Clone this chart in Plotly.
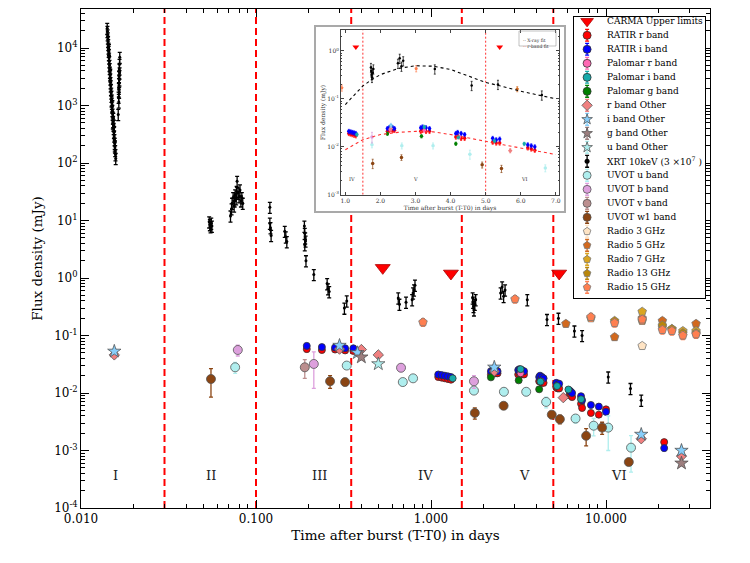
import math
import plotly.graph_objects as go

# ---------------- data ----------------
boundaries = [0.03, 0.1, 0.35, 1.5, 5.0]
region_names = ["I", "II", "III", "IV", "V", "VI"]
region_t = [0.0157, 0.0553, 0.23, 0.935, 3.4, 11.9]
region_f = 3.7e-4
inset_boundaries = [1.5, 5.0]
inset_region_names = ["IV", "V", "VI"]
inset_region_t = [1.2, 3.0, 6.1]
inset_region_f = 0.0021

carma_t = [0.53, 1.30, 5.40]
carma_f = [1.5, 1.2, 1.2]

ratir_r_t = [0.195, 0.238, 0.283, 0.323, 0.36,
             1.10, 1.15, 1.20, 1.25, 1.30,
             2.20, 2.25, 2.30, 2.35, 2.40, 3.15, 3.20, 3.30, 3.40, 4.15, 4.20, 4.30, 4.40,
             5.20, 5.30, 5.40, 6.20, 6.30, 6.40, 7.20, 7.30, 8.20, 9.10, 10.0, 21.5]
ratir_r_f = [0.058, 0.056, 0.057, 0.055, 0.054,
             0.019, 0.0185, 0.018, 0.0175, 0.017,
             0.021, 0.022, 0.023, 0.022, 0.022, 0.021, 0.022, 0.021, 0.021, 0.016, 0.017, 0.015, 0.015,
             0.0125, 0.012, 0.012, 0.0095, 0.009, 0.0085, 0.0065, 0.0055, 0.0045, 0.0042, 0.0052, 0.0014]

ratir_i_t = [0.195, 0.238, 0.283, 0.323, 0.36,
             1.10, 1.15, 1.20, 1.25, 1.30,
             2.20, 2.25, 2.30, 2.35, 2.40, 3.15, 3.20, 3.30, 3.40, 4.15, 4.20, 4.30, 4.40,
             5.20, 5.30, 5.40, 6.20, 6.30, 6.40, 7.20, 7.30, 8.20, 9.10, 10.0, 21.5]
ratir_i_f = [0.066, 0.063, 0.062, 0.060, 0.060,
             0.021, 0.0205, 0.020, 0.0195, 0.019,
             0.024, 0.025, 0.026, 0.025, 0.024, 0.025, 0.026, 0.025, 0.024, 0.019, 0.020, 0.019, 0.018,
             0.015, 0.014, 0.0145, 0.011, 0.0105, 0.010, 0.0088, 0.0075, 0.0062, 0.0058, 0.0047, 0.0011]

pal_r_t = [2.28, 3.25, 4.25]
pal_r_f = [0.023, 0.022, 0.016]
pal_i_t = [1.33, 2.30, 3.25, 4.22, 5.25, 6.10, 7.20]
pal_i_f = [0.018, 0.027, 0.026, 0.0158, 0.0132, 0.0115, 0.0078]
pal_g_t = [2.20, 3.17, 4.15]
pal_g_f = [0.0187, 0.0166, 0.0116]

r_oth_t = [0.0155, 0.30, 0.40, 0.50, 2.30, 5.70, 15.9, 27.0]
r_oth_f = [0.046, 0.058, 0.057, 0.046, 0.024, 0.0083, 0.0016, 0.0008]
i_oth_t = [0.0155, 0.30, 0.38, 2.30, 15.9, 27.0]
i_oth_f = [0.053, 0.067, 0.050, 0.028, 0.0019, 0.001]
g_oth_t = [0.40, 27.0]
g_oth_f = [0.042, 0.0006]
u_oth_t = [0.50]
u_oth_f = [0.032]

xrt_t = [
    0.01412, 0.01416, 0.01420, 0.01424, 0.01428, 0.01431, 0.01435, 0.01439, 0.01443, 0.01447,
    0.01451, 0.01455, 0.01459, 0.01463, 0.01467, 0.01471, 0.01475, 0.01479, 0.01483, 0.01488,
    0.01492, 0.01497, 0.01501, 0.01506, 0.01511, 0.01516, 0.01521, 0.01526, 0.01531, 0.01537,
    0.01542, 0.01547, 0.01553, 0.01558, 0.01563, 0.01568, 0.01574, 0.01579,
    0.01445, 0.01470, 0.01495, 0.01520, 0.01540, 0.01560, 0.01548, 0.01530, 0.01512,
    0.01665, 0.01660, 0.01655, 0.01662, 0.01650, 0.01657, 0.01648, 0.01645, 0.01652, 0.01640, 0.01645, 0.01632,
    0.0540, 0.0545, 0.0550, 0.0555, 0.0560,
    0.0715, 0.0725, 0.0730, 0.0740, 0.0750, 0.0755, 0.0760, 0.0770, 0.0775, 0.0780, 0.0790, 0.0800,
    0.0810, 0.0820, 0.0830, 0.0840,
    0.120, 0.120, 0.121, 0.122, 0.146, 0.148, 0.150, 0.189, 0.190, 0.191, 0.192, 0.190, 0.193, 0.214,
    0.255, 0.258, 0.262, 0.320, 0.330,
    0.65, 0.66, 0.72, 0.78, 0.79, 0.80, 0.81,
    1.73, 1.74, 1.75, 1.76, 1.78, 1.80, 2.50, 2.55, 2.60, 2.65, 3.55, 4.60,
    5.35, 6.60, 7.30, 10.3, 13.8, 15.9]
xrt_f = [
    22000, 19500, 17000, 15000, 13000, 11500, 10000, 8800, 7700, 6700,
    5800, 5000, 4400, 3800, 3300, 2900, 2500, 2200, 1900, 1650,
    1450, 1250, 1100, 950, 820, 710, 610, 530, 460, 400,
    340, 295, 255, 220, 190, 165, 140, 120,
    9500, 3500, 1200, 500, 450, 200, 350, 600, 1000,
    6900, 5200, 4300, 3700, 3200, 2800, 2400, 2000, 1700, 1400, 1150, 700,
    9.5, 8.5, 7.8, 9.0, 8.0,
    12, 16, 20, 25, 18, 22, 28, 24, 32, 48, 30, 26,
    34, 22, 25, 20,
    17, 9.0, 7.5, 5.5, 6.5, 5.2, 4.3, 8.0, 6.0, 5.0, 4.4, 3.8, 2.0, 1.15,
    0.80, 0.65, 0.58, 0.30, 0.40,
    0.45, 0.35, 0.38, 0.42, 0.55, 0.62, 0.75,
    0.45, 0.38, 0.32, 0.28, 0.35, 0.42, 0.55, 0.70, 0.48, 0.62, 0.42, 0.19,
    0.20, 0.12, 0.10, 0.019, 0.012, 0.0075]

uvu_t = [0.076, 0.33, 0.69, 0.79, 1.76, 2.61, 3.50, 4.55, 6.70, 8.50, 10.3, 13.9]
uvu_f = [0.028, 0.030, 0.0155, 0.018, 0.011, 0.0105, 0.0105, 0.007, 0.0036, 0.0027, 0.0025, 0.00112]
uvu_e = [0.006, 0.004, 0.002, 0.002, 0.0015, 0.0015, 0.0015, 0.0015, 0.0006, 0.0009, 0.0015, 0.0007]
uvb_t = [0.0787, 0.214, 0.674, 1.76]
uvb_f = [0.056, 0.032, 0.0275, 0.016]
uvb_e = [0.012, 0.020, 0.004, 0.004]
uvv_t = [0.19]
uvv_f = [0.028]
uvv_e = [0.010]
uvw1_t = [0.0553, 0.265, 0.323, 1.78, 2.60, 4.90, 5.45, 7.70, 9.50, 13.5]
uvw1_f = [0.0175, 0.016, 0.0155, 0.0045, 0.006, 0.0042, 0.0035, 0.0018, 0.0025, 0.00063]
uvw1_e = [0.009, 0.004, 0.002, 0.001, 0.0008, 0.0006, 0.0006, 0.0006, 0.0006, 0.00008]

radio3_t = [16.1]
radio3_f = [0.066]
radio5_t = [5.9, 11.2, 16.1, 21.0, 32.7]
radio5_f = [0.16, 0.094, 0.20, 0.18, 0.16]
radio7_t = [8.2, 16.1, 21.0, 23.8, 27.5, 32.7]
radio7_f = [0.20, 0.26, 0.14, 0.13, 0.12, 0.12]
radio13_t = [11.2, 16.1, 21.0, 23.8, 27.5, 32.7]
radio13_f = [0.18, 0.18, 0.15, 0.13, 0.11, 0.11]
radio15_t = [0.9, 3.02, 8.2, 11.2, 16.1, 21.0, 23.8, 27.5, 32.7]
radio15_f = [0.17, 0.43, 0.21, 0.165, 0.19, 0.125, 0.12, 0.10, 0.105]

xfit_t = [1.0, 1.25, 1.5, 1.75, 2.0, 2.5, 3.0, 3.5, 4.0, 4.5, 5.0, 5.5, 6.0, 6.5, 7.0]
xfit_f = [0.076, 0.12, 0.186, 0.25, 0.32, 0.43, 0.49, 0.48, 0.41, 0.30, 0.22, 0.18, 0.144, 0.12, 0.10]
rfit_t = [1.0, 1.5, 2.0, 2.5, 3.0, 3.5, 4.0, 4.5, 5.0, 5.5, 6.0, 6.5, 7.0]
rfit_f = [0.0087, 0.014, 0.018, 0.020, 0.021, 0.0205, 0.018, 0.0155, 0.013, 0.011, 0.0094, 0.008, 0.0069]

xtick_vals = [0.01, 0.1, 1.0, 10.0]
xtick_text = ["0.010", "0.100", "1.000", "10.000"]
ytick_exp = [-4, -3, -2, -1, 0, 1, 2, 3, 4]
inset_xticks = [1.0, 2.0, 3.0, 4.0, 5.0, 6.0, 7.0]
inset_yexp = [-3, -2, -1, 0]

# ---------------- layout geometry ----------------
W, H = 750, 563
L, R, T, B = 73, 48, 1, 63
PW, PH = W - L - R, H - T - B
FONT = "DejaVu Serif"


def fx(px):
    return (px - L) / PW


def fy(py):
    return (H - B - py) / PH


DEC_X, DEC_Y = 175.0, 57.5
main_xrange = [-2, -2 + PW / DEC_X]
main_yrange = [-4, -4 + PH / DEC_Y]
inset_xrange = [0.877, 7.09]
inset_yrange = [-3, 0.43]

# series spec: name, t, f, color, symbol, size, error spec, edge
series = [
    ("CARMA Upper limits", carma_t, carma_f, "#ff0000", "triangle-down", 13, None, "#aa0000"),
    ("RATIR r band", ratir_r_t, ratir_r_f, "#ff0000", "circle", 7, ("pct", 10), "#333333"),
    ("RATIR i band", ratir_i_t, ratir_i_f, "#0000ff", "circle", 7, ("pct", 10), "#333333"),
    ("Palomar r band", pal_r_t, pal_r_f, "#ff69b4", "circle", 7, ("pct", 8), "#333333"),
    ("Palomar i band", pal_i_t, pal_i_f, "#17aaaa", "circle", 7, ("pct", 8), "#333333"),
    ("Palomar g band", pal_g_t, pal_g_f, "#008000", "circle", 7, ("pct", 8), "#333333"),
    ("r band Other", r_oth_t, r_oth_f, "#f08080", "diamond", 8, ("pct", 10), "#555555"),
    ("i band Other", i_oth_t, i_oth_f, "#87cefa", "star", 10, ("pct", 10), "#555555"),
    ("g band Other", g_oth_t, g_oth_f, "#9d7e7e", "star", 10, ("pct", 10), "#555555"),
    ("u band Other", u_oth_t, u_oth_f, "#afeeee", "star", 10, ("pct", 10), "#555555"),
    ("XRT 10keV (3 \u00d710<sup>7</sup> )", xrt_t, xrt_f, "#000000", "circle", 3, ("pct", 22), None),
    ("UVOT u band", uvu_t, uvu_f, "#afeeee", "circle", 9, ("arr", uvu_e), "#555555"),
    ("UVOT b band", uvb_t, uvb_f, "#dda0dd", "circle", 9, ("arr", uvb_e), "#555555"),
    ("UVOT v band", uvv_t, uvv_f, "#bc8f8f", "circle", 9, ("arr", uvv_e), "#555555"),
    ("UVOT w1 band", uvw1_t, uvw1_f, "#8b4513", "circle", 9, ("arr", uvw1_e), "#555555"),
    ("Radio 3 GHz", radio3_t, radio3_f, "#ffe4c4", "pentagon", 9, ("pct", 12), "#777777"),
    ("Radio 5 GHz", radio5_t, radio5_f, "#d2691e", "pentagon", 9, ("pct", 12), "#777777"),
    ("Radio 7 GHz", radio7_t, radio7_f, "#daa520", "pentagon", 9, ("pct", 8), "#777777"),
    ("Radio 13 GHz", radio13_t, radio13_f, "#b8860b", "pentagon", 9, ("pct", 8), "#777777"),
    ("Radio 15 GHz", radio15_t, radio15_f, "#ff7f50", "pentagon", 9, ("pct", 15), "#777777"),
]


def err_dict(spec, color, keep=None, thick=1.3, width=2):
    if spec is None:
        return dict(visible=False)
    kind, val = spec
    if kind == "pct":
        return dict(type="percent", value=val, color=color, thickness=thick, width=width)
    arr = val if keep is None else [val[i] for i in keep]
    return dict(type="data", array=arr, color=color, thickness=thick, width=width)


fig = go.Figure()

# main panel
for name, t, f, color, sym, size, espec, edge in series:
    fig.add_trace(go.Scatter(
        x=t, y=f, mode="markers", name=name, showlegend=False,
        marker=dict(color=color, symbol=sym, size=size,
                    line=dict(color=edge or color, width=0.8 if edge else 0)),
        error_y=err_dict(espec, color),
        xaxis="x", yaxis="y",
    ))

# frame of the inset (x2/y2) - an opaque panel
fig.add_trace(go.Scatter(x=[0.5], y=[0.5], mode="markers", marker=dict(opacity=0),
                         showlegend=False, hoverinfo="skip", xaxis="x2", yaxis="y2"))

# inset panel (x3/y3)
for name, t, f, color, sym, size, espec, edge in series:
    keep = [i for i, v in enumerate(t) if inset_xrange[0] <= v <= inset_xrange[1]]
    if not keep:
        continue
    isz = 6 if sym == "triangle-down" else (2.5 if color == "#000000" else 3.5)
    fig.add_trace(go.Scatter(
        x=[t[i] for i in keep], y=[f[i] for i in keep], mode="markers", showlegend=False,
        marker=dict(color=color, symbol=sym, size=isz, line=dict(width=0)),
        error_y=err_dict(espec, color, keep, thick=0.7, width=1),
        xaxis="x3", yaxis="y3",
    ))
fig.add_trace(go.Scatter(x=xfit_t, y=xfit_f, mode="lines", showlegend=False,
                         line=dict(color="black", dash="dot", width=1.1), xaxis="x3", yaxis="y3"))
fig.add_trace(go.Scatter(x=rfit_t, y=rfit_f, mode="lines", showlegend=False,
                         line=dict(color="#ff3030", dash="dot", width=1.1), xaxis="x3", yaxis="y3"))

# legend panel (x4/y4)
for i, (name, t, f, color, sym, size, espec, edge) in enumerate(series):
    lsize = 11 if sym == "triangle-down" else (5 if color == "#000000" else 8)
    fig.add_trace(go.Scatter(
        x=[0.1], y=[i], mode="markers", showlegend=False, hoverinfo="skip",
        marker=dict(color=color, symbol=sym, size=lsize,
                    line=dict(color=edge or color, width=0.8 if edge else 0)),
        error_y=(dict(visible=False) if espec is None else
                 dict(type="constant", value=0.42, color=color, thickness=1.3, width=2)),
        xaxis="x4", yaxis="y4",
    ))

shapes = []
for b in boundaries:
    shapes.append(dict(type="line", xref="x", yref="y", layer="below",
                       x0=b, x1=b, y0=10 ** main_yrange[0], y1=10 ** main_yrange[1],
                       line=dict(color="#ff0000", width=2, dash="7px,4px")))
for b in inset_boundaries:
    shapes.append(dict(type="line", xref="x3", yref="y3", layer="below",
                       x0=b, x1=b, y0=10 ** inset_yrange[0], y1=10 ** inset_yrange[1],
                       line=dict(color="#ff3030", width=1, dash="2px,2px")))
# inset mini-legend box
shapes.append(dict(type="rect", xref="paper", yref="paper",
                   x0=fx(511), x1=fx(548), y0=fy(38), y1=fy(23),
                   line=dict(color="#999999", width=0.6), fillcolor="rgba(255,255,255,0)"))

annotations = []
for nm, t in zip(region_names, region_t):
    annotations.append(dict(x=math.log10(t), y=math.log10(region_f), xref="x", yref="y",
                            text=nm, showarrow=False, font=dict(family=FONT, size=13, color="#222")))
for nm, t in zip(inset_region_names, inset_region_t):
    annotations.append(dict(x=t, y=math.log10(inset_region_f), xref="x3", yref="y3",
                            text=nm, showarrow=False, font=dict(family=FONT, size=5, color="#333")))
for i, (name, *_rest) in enumerate(series):
    annotations.append(dict(x=0.235, y=i, xref="x4", yref="y4", xanchor="left", yanchor="middle",
                            text=name, showarrow=False, font=dict(family=FONT, size=9, color="black")))
annotations.append(dict(x=fx(513), y=fy(27.5), xref="paper", yref="paper", xanchor="left",
                        text="<span style='color:black'>\u00b7\u00b7</span> X-ray fit",
                        showarrow=False, font=dict(family=FONT, size=4.5, color="#333")))
annotations.append(dict(x=fx(513), y=fy(33.5), xref="paper", yref="paper", xanchor="left",
                        text="<span style='color:#ff3030'>\u00b7\u00b7</span> r-band fit",
                        showarrow=False, font=dict(family=FONT, size=4.5, color="#333")))

xminor = [k * 10 ** n for n in range(-2, 2) for k in range(2, 10)]
yminor = [k * 10.0 ** n for n in range(-4, 5) for k in range(2, 10)]
iyminor = [k * 10.0 ** n for n in range(-3, 1) for k in range(2, 10)]

fig.update_layout(
    width=W, height=H,
    margin=dict(l=L, r=R, t=T, b=B),
    paper_bgcolor="white", plot_bgcolor="white",
    showlegend=False,
    font=dict(family=FONT, color="black"),
    shapes=shapes, annotations=annotations,
    xaxis=dict(type="log", range=main_xrange, domain=[0, 1], anchor="y",
               tickmode="array", tickvals=xtick_vals, ticktext=xtick_text,
               ticks="inside", ticklen=8, tickwidth=1, tickcolor="black", mirror="allticks",
               showline=True, linecolor="black", linewidth=1, showgrid=False, zeroline=False,
               tickfont=dict(family=FONT, size=12),
               minor=dict(tickmode="array", tickvals=xminor, ticks="inside", ticklen=4,
                          tickcolor="black", showgrid=False),
               title=dict(text="Time after burst (T-T0) in days", font=dict(family=FONT, size=13.5),
                          standoff=5)),
    yaxis=dict(type="log", range=main_yrange, domain=[0, 1], anchor="x",
               tickmode="array", tickvals=[10.0 ** e for e in ytick_exp],
               ticktext=["10<sup>%d</sup>" % e for e in ytick_exp],
               ticks="inside", ticklen=8, tickwidth=1, tickcolor="black", mirror="allticks",
               showline=True, linecolor="black", linewidth=1, showgrid=False, zeroline=False,
               tickfont=dict(family=FONT, size=12),
               minor=dict(tickmode="array", tickvals=yminor, ticks="inside", ticklen=4,
                          tickcolor="black", showgrid=False),
               title=dict(text="Flux density (mJy)", font=dict(family=FONT, size=13.5), standoff=8)),
    xaxis2=dict(domain=[fx(307.7), fx(555.7)], range=[0, 1], anchor="y2", showline=True, mirror=True,
                linecolor="#a9a9a9", linewidth=2, showticklabels=False, ticks="", showgrid=False,
                zeroline=False, fixedrange=True),
    yaxis2=dict(domain=[fy(203), fy(19)], range=[0, 1], anchor="x2", showline=True, mirror=True,
                linecolor="#a9a9a9", linewidth=2, showticklabels=False, ticks="", showgrid=False,
                zeroline=False, fixedrange=True),
    xaxis3=dict(domain=[fx(333), fx(551)], range=inset_xrange, anchor="y3",
                tickmode="array", tickvals=inset_xticks, ticktext=["%.1f" % v for v in inset_xticks],
                ticks="inside", ticklen=3, tickcolor="#444", mirror="allticks", showline=True,
                linecolor="#444", linewidth=0.8, showgrid=False, zeroline=False,
                tickfont=dict(family=FONT, size=6, color="#333"),
                title=dict(text="Time after burst (T-T0) in days", font=dict(family=FONT, size=6, color="#333"),
                           standoff=1)),
    yaxis3=dict(type="log", domain=[fy(186.7), fy(22.3)], range=inset_yrange, anchor="x3",
                tickmode="array", tickvals=[10.0 ** e for e in inset_yexp],
                ticktext=["10<sup>%d</sup>" % e for e in inset_yexp],
                ticks="inside", ticklen=3, tickcolor="#444", mirror="allticks", showline=True,
                linecolor="#444", linewidth=0.8, showgrid=False, zeroline=False,
                tickfont=dict(family=FONT, size=6, color="#333"),
                minor=dict(tickmode="array", tickvals=iyminor, ticks="inside", ticklen=1.5,
                           tickcolor="#444", showgrid=False),
                title=dict(text="Flux density (mJy)", font=dict(family=FONT, size=6, color="#333"),
                           standoff=1)),
    xaxis4=dict(domain=[fx(566), fx(697)], range=[0, 1], anchor="y4", showline=True, mirror=True,
                linecolor="black", linewidth=1, showticklabels=False, ticks="", showgrid=False,
                zeroline=False, fixedrange=True),
    yaxis4=dict(domain=[fy(290), fy(9)], range=[19.76, -0.31], anchor="x4", showline=True, mirror=True,
                linecolor="black", linewidth=1, showticklabels=False, ticks="", showgrid=False,
                zeroline=False, fixedrange=True),
)

fig.write_html("out.html")
